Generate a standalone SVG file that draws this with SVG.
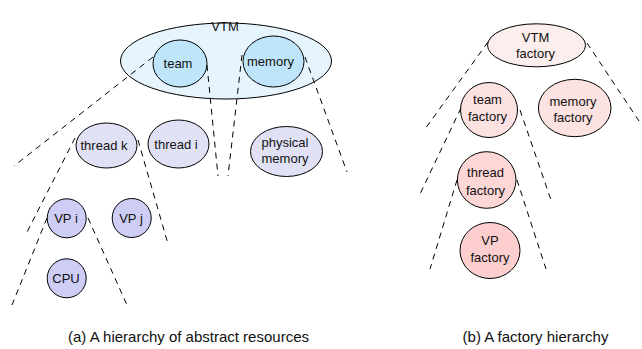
<svg xmlns="http://www.w3.org/2000/svg" width="642" height="349" viewBox="0 0 642 349">
  <style>
    .node { stroke: #000; stroke-width: 1; }
    .lbl { font-family: "Liberation Sans", Arial, sans-serif; font-size: 13px; fill: #111; text-anchor: middle; }
    .cap { font-family: "Liberation Sans", Arial, sans-serif; font-size: 15px; fill: #111; text-anchor: middle; }
    .dash { stroke: #000; stroke-width: 1; stroke-dasharray: 6 5; fill: none; }
  </style>
  <rect width="642" height="349" fill="#fff"/>

  <!-- left tree: abstract resources -->
  <g id="vtm">
    <ellipse class="node" cx="226" cy="61" rx="105.5" ry="38" fill="#e6f4fd"/>
    <text class="lbl" x="225" y="31">VTM</text>
  </g>
  <g id="team">
    <ellipse class="node" cx="180" cy="63.5" rx="27" ry="23.5" fill="#bfe5fb"/>
    <text class="lbl" x="178" y="68">team</text>
  </g>
  <g id="memory">
    <ellipse class="node" cx="273.5" cy="61.5" rx="30.5" ry="25.5" fill="#bfe5fb"/>
    <text class="lbl" x="270.5" y="66">memory</text>
  </g>
  <g id="thread-k">
    <ellipse class="node" cx="106.5" cy="145.5" rx="30.5" ry="22.5" fill="#e1e1f6"/>
    <text class="lbl" x="104" y="150">thread k</text>
  </g>
  <g id="thread-i">
    <ellipse class="node" cx="178.5" cy="144" rx="30.5" ry="24" fill="#e1e1f6"/>
    <text class="lbl" x="176" y="148.5">thread i</text>
  </g>
  <g id="physical-memory">
    <ellipse class="node" cx="286.5" cy="151.5" rx="36" ry="25" fill="#e1e1f6"/>
    <text class="lbl" x="285" y="147">physical</text>
    <text class="lbl" x="285" y="163">memory</text>
  </g>
  <g id="vp-i">
    <circle class="node" cx="66.7" cy="218.3" r="19.5" fill="#cdcdf6"/>
    <text class="lbl" x="66" y="223">VP i</text>
  </g>
  <g id="vp-j">
    <circle class="node" cx="131.7" cy="218" r="19.5" fill="#cdcdf6"/>
    <text class="lbl" x="131" y="222.5">VP j</text>
  </g>
  <g id="cpu">
    <circle class="node" cx="66.7" cy="278.3" r="19.5" fill="#cdcdf6"/>
    <text class="lbl" x="66" y="283">CPU</text>
  </g>

  <!-- right tree: factories -->
  <g id="vtm-factory">
    <ellipse class="node" cx="536.5" cy="45.3" rx="49" ry="21.5" fill="#fdeeee"/>
    <text class="lbl" x="535.5" y="41.5">VTM</text>
    <text class="lbl" x="535.5" y="57.5">factory</text>
  </g>
  <g id="team-factory">
    <ellipse class="node" cx="489" cy="110" rx="28.5" ry="27.5" fill="#fde2e2"/>
    <text class="lbl" x="487.5" y="104">team</text>
    <text class="lbl" x="487.5" y="121">factory</text>
  </g>
  <g id="memory-factory">
    <ellipse class="node" cx="574.7" cy="108" rx="36.3" ry="28.7" fill="#fde2e2"/>
    <text class="lbl" x="573" y="106">memory</text>
    <text class="lbl" x="573" y="122">factory</text>
  </g>
  <g id="thread-factory">
    <ellipse class="node" cx="486.7" cy="180" rx="29.3" ry="28.3" fill="#fdd6d6"/>
    <text class="lbl" x="485.5" y="177">thread</text>
    <text class="lbl" x="485.5" y="195">factory</text>
  </g>
  <g id="vp-factory">
    <ellipse class="node" cx="490" cy="250.5" rx="30" ry="28" fill="#fdcece"/>
    <text class="lbl" x="490" y="244.5">VP</text>
    <text class="lbl" x="490" y="262">factory</text>
  </g>

  <!-- dashed scope lines -->
  <g id="connectors">
    <line class="dash" x1="153" y1="57" x2="14" y2="166"/>
    <line class="dash" x1="207" y1="65" x2="218" y2="176"/>
    <line class="dash" x1="242" y1="55" x2="228" y2="176"/>
    <line class="dash" x1="305" y1="57" x2="347" y2="172"/>
    <line class="dash" x1="75" y1="138" x2="25" y2="236"/>
    <line class="dash" x1="138" y1="140" x2="168" y2="244"/>
    <line class="dash" x1="47" y1="218" x2="12" y2="305"/>
    <line class="dash" x1="88" y1="218" x2="127" y2="305"/>

    <line class="dash" x1="488" y1="42" x2="425" y2="129"/>
    <line class="dash" x1="587" y1="43" x2="639" y2="121"/>
    <line class="dash" x1="461" y1="108" x2="420" y2="194"/>
    <line class="dash" x1="520" y1="110" x2="552" y2="203"/>
    <line class="dash" x1="457" y1="180" x2="430" y2="269"/>
    <line class="dash" x1="517" y1="180" x2="546" y2="269"/>
  </g>

  <text class="cap" x="188.5" y="342">(a) A hierarchy of abstract resources</text>
  <text class="cap" x="535.5" y="342">(b) A factory hierarchy</text>
</svg>
